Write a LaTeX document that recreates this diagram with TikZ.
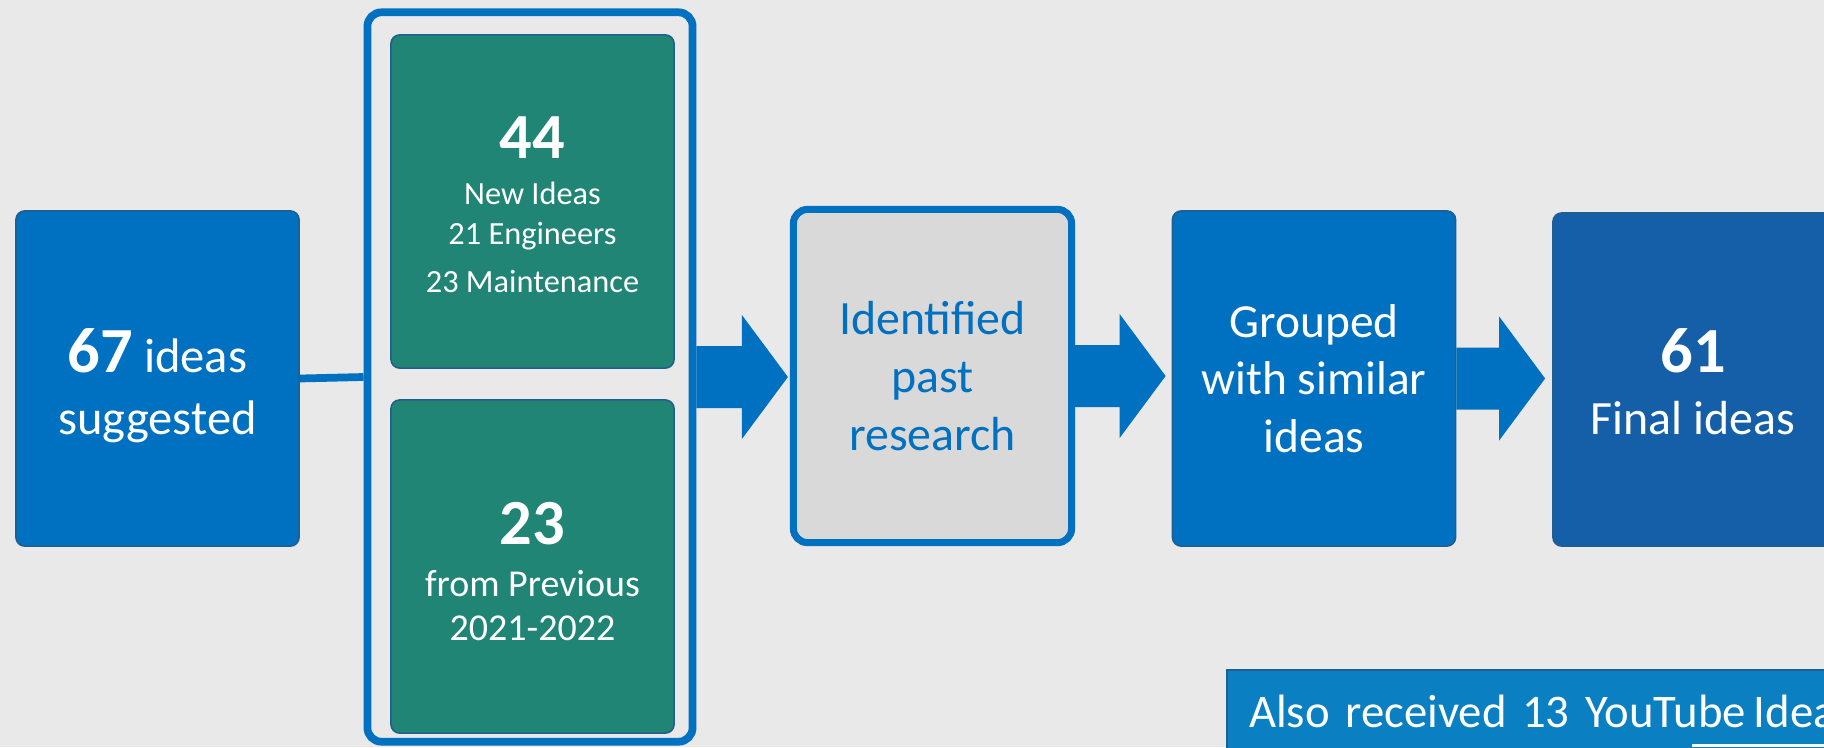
\documentclass[tikz,border=0pt]{standalone}
\usepackage{fontspec}
\setmainfont{Carlito}
\usepackage{tikz}
\usetikzlibrary{calc, positioning}
\definecolor{bggray}{HTML}{E9E9E9}
\definecolor{stepblue}{HTML}{0070C0}
\definecolor{edgeblue}{HTML}{1F5F8F}
\definecolor{stepgreen}{HTML}{208575}
\definecolor{researchgray}{HTML}{D9D9D9}
\definecolor{finalblue}{HTML}{155FA8}
\definecolor{notebox}{HTML}{0A7FC2}
\newcommand{\bignum}{\fontsize{18.3}{20}\selectfont\bfseries}
\newcommand{\toppad}[1]{\rule{0pt}{#1}}
\tikzset{
  card/.style={rectangle, rounded corners=2.5pt, draw=edgeblue, line width=0.45pt, text=white, align=center},
  bluebox/.style={card, fill=stepblue, minimum width=2.83cm, minimum height=3.35cm},
  greenbox/.style={card, fill=stepgreen, minimum width=2.83cm, minimum height=3.33cm},
  poolbox/.style={rectangle, rounded corners=4pt, draw=stepblue, line width=2.2pt, minimum width=3.25cm, minimum height=7.29cm},
  researchbox/.style={rectangle, rounded corners=4pt, draw=stepblue, line width=2pt, fill=researchgray, text=stepblue, align=center, minimum width=2.78cm, minimum height=3.33cm},
  linkline/.style={draw=stepblue, line width=2.2pt}
}
% block arrow between two steps: source, target, gap before target
\newcommand{\flowarrow}[3]{%
  \fill[stepblue] ($(#1.east)+(0,31)$) -- ($(#2.west |- #1.east)+(-#3-46,31)$)
    -- ($(#2.west |- #1.east)+(-#3-46,62)$) -- ($(#2.west |- #1.east)+(-#3,0)$)
    -- ($(#2.west |- #1.east)+(-#3-46,-62)$) -- ($(#2.west |- #1.east)+(-#3-46,-31)$)
    -- ($(#1.east)+(0,-31)$) -- cycle;}
\begin{document}
\begin{tikzpicture}[x=0.01cm, y=0.01cm]
\path[use as bounding box, clip] (0,0) rectangle (1824,747);
\fill[bggray] (0,0) rectangle (1824,747);

% first column
\node[bluebox, font=\fontsize{13.8}{17.6}\selectfont] (idea) at (157.5,368.5)
  {\toppad{16.6pt}{\bignum 67} ideas\\suggested};

% where the ideas came from
\node[poolbox] (pool) at (530,370) {};
\node[greenbox, font=\fontsize{9.2}{11.4}\selectfont] (newideas) at (532.5,545.5)
  {\toppad{13.9pt}{\bignum 44}\\[1.7pt]New Ideas\\21 Engineers\\[2.3pt]23 Maintenance};
\node[greenbox, font=\fontsize{10.8}{12.5}\selectfont] (previous) at (532.5,180.5)
  {\toppad{15.1pt}{\bignum 23}\\[2.3pt]from Previous\\2021-2022};
\draw[linkline] (idea.east) -- (pool.west);

% later steps
\node[researchbox, font=\fontsize{13.6}{16.4}\selectfont] (research) at (932.5,371) {Identified\\past\\research};
\node[bluebox, font=\fontsize{13.5}{16.4}\selectfont] (grouped) at (1314,368.5) {Grouped\\with similar\\ideas};
\node[bluebox, fill=finalblue, minimum width=2.8cm, minimum height=3.33cm, font=\fontsize{13.6}{17.6}\selectfont] (final) at (1693,367.5)
  {\toppad{13.9pt}{\bignum 61}\\Final ideas};

\flowarrow{pool}{research}{2}
\flowarrow{research}{grouped}{6}
\flowarrow{grouped}{final}{7}

% note at the bottom
\node[rectangle, draw=edgeblue, line width=0.6pt, fill=notebox, text=white, anchor=north west,
  minimum height=0.82cm, text width=9cm, inner xsep=0.22cm, align=left,
  font=\fontsize{13.3}{16}\selectfont] (youtube) at (1226,78) {Also received 13 YouTube\,Ideas};
\fill[white] (1692,0) rectangle (1830,3);
\end{tikzpicture}
\end{document}
